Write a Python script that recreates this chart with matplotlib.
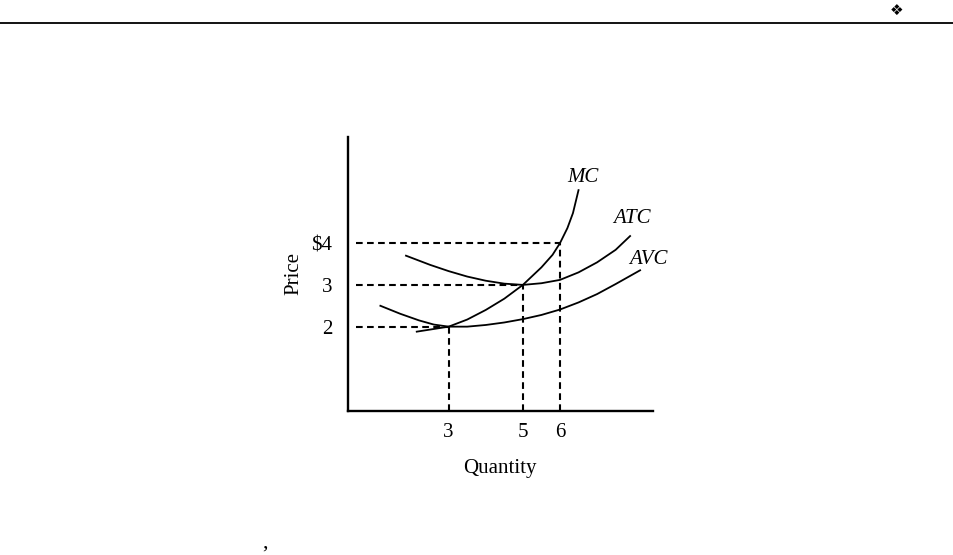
import matplotlib.pyplot as plt

# curve points (quantity, price)
mc_q = [2.14, 2.5, 3.0, 3.5, 4.0, 4.5, 5.0, 5.5, 5.8, 6.0, 6.2, 6.35, 6.5]
mc_p = [1.88, 1.93, 2.0, 2.17, 2.40, 2.67, 3.0, 3.42, 3.72, 4.0, 4.36, 4.72, 5.27]

atc_q = [1.85, 2.5, 3.0, 3.5, 4.0, 4.5, 5.0, 5.5, 6.0, 6.5, 7.0, 7.5, 7.89]
atc_p = [3.70, 3.48, 3.33, 3.20, 3.10, 3.03, 3.0, 3.04, 3.12, 3.30, 3.54, 3.84, 4.17]

avc_q = [1.16, 1.69, 2.2, 2.6, 3.0, 3.5, 4.0, 4.5, 5.0, 5.5, 6.0, 6.5, 7.0, 7.5, 8.16]
avc_p = [2.50, 2.31, 2.15, 2.05, 2.0, 2.0, 2.04, 2.10, 2.18, 2.28, 2.41, 2.58, 2.78, 3.02, 3.35]

guide_q = [3, 5, 6]
guide_p = [2, 3, 4]
q_labels = ["3", "5", "6"]
p_labels = ["2", "3", "$4"]

plt.rcParams["font.family"] = ["Liberation Serif", "DejaVu Serif"]

fig = plt.figure(figsize=(9.54, 5.55), dpi=100)
ax = fig.add_axes([0.3645, 0.2595, 0.3197, 0.4942])

for q, p in [(mc_q, mc_p), (atc_q, atc_p), (avc_q, avc_p)]:
    ax.plot(q, p, color="black", lw=1.3, solid_joinstyle="round")

x0, y0 = 0.28, -0.02
dash = (0, (3.2, 2.1))
ax.hlines(guide_p, x0 + 0.22, guide_q, colors="black", lw=1.5, linestyles=dash)
ax.vlines(guide_q, y0, guide_p, colors="black", lw=1.5, linestyles=dash)

ax.text(6.63, 5.57, "MC", style="italic", fontsize=15, ha="center", va="center")
ax.text(7.94, 4.58, "ATC", style="italic", fontsize=15, ha="center", va="center")
ax.text(8.39, 3.61, "AVC", style="italic", fontsize=15, ha="center", va="center")

ax.set_xlim(x0, 8.5)
ax.set_ylim(y0, 6.55)
ax.set_xticks(guide_q)
ax.set_xticklabels(q_labels, fontsize=15)
ax.set_yticks(guide_p)
ax.set_yticklabels(p_labels, fontsize=15)
ax.tick_params(axis="x", length=0, pad=9)
ax.tick_params(axis="y", length=0, pad=11)
ax.set_xlabel("Quantity", fontsize=15, labelpad=12)
ax.set_ylabel("Price", fontsize=15, labelpad=6)
ax.spines[["top", "right"]].set_visible(False)
ax.spines["left"].set_linewidth(1.7)
ax.spines["bottom"].set_linewidth(1.7)

# page furniture from the scan
fig.add_artist(plt.Line2D([0, 1], [1 - 23 / 555, 1 - 23 / 555], color="black", lw=1.3))
fig.text(897 / 954, 1 - 10 / 555, "\u2756", family="DejaVu Sans", fontsize=11,
         ha="center", va="center")
fig.text(265 / 954, 1 - 543 / 555, ",", fontsize=16, ha="center", va="center")

fig.savefig("out.png", dpi=100)
